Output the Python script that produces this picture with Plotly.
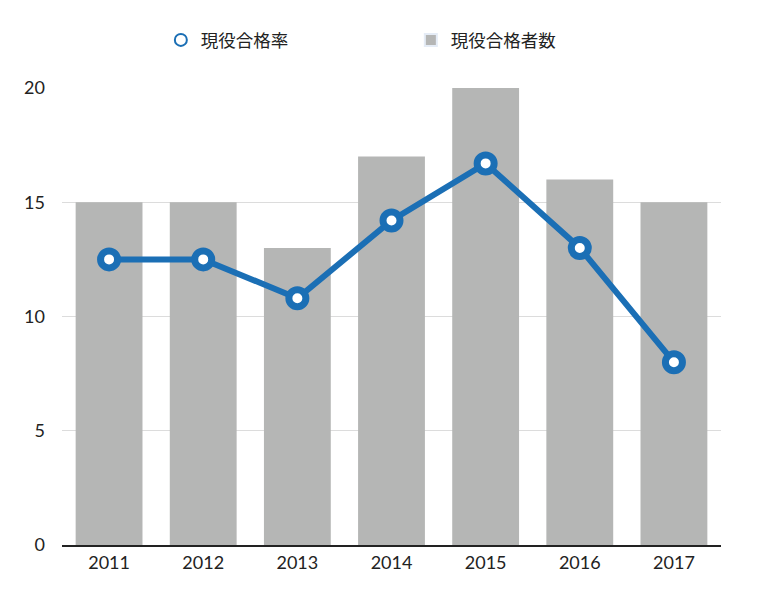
import plotly.graph_objects as go

years = ["2011", "2012", "2013", "2014", "2015", "2016", "2017"]
passers = [15, 15, 13, 17, 20, 16, 15]
pass_rate = [12.5, 12.5, 10.8, 14.2, 16.7, 13.0, 8.0]

blue = "#1b6fb5"
gray = "#b5b6b5"

fig = go.Figure()

fig.add_trace(go.Bar(
    x=years, y=passers, name="現役合格者数",
    marker=dict(color=gray, line=dict(width=0)),
    showlegend=False,
))

fig.add_trace(go.Scatter(
    x=years, y=pass_rate, name="現役合格率",
    mode="lines+markers",
    line=dict(color=blue, width=6),
    marker=dict(size=17, color="white", line=dict(color=blue, width=7)),
    showlegend=False,
))

# legend-only entries (marker only for the line series)
fig.add_trace(go.Scatter(
    x=[None], y=[None], name="現役合格率", mode="markers",
    marker=dict(size=10, color="white", line=dict(color=blue, width=5)),
))
fig.add_trace(go.Bar(
    x=[None], y=[None], name="現役合格者数", marker=dict(color=gray),
))

fig.update_layout(
    width=768, height=591,
    margin=dict(l=54, r=55, t=80, b=54, autoexpand=False),
    paper_bgcolor="white", plot_bgcolor="white",
    font=dict(family="Lato, Noto Sans CJK JP", size=18, color="#222222"),
    bargap=0.29,
    barmode="overlay",
    legend=dict(
        orientation="h", x=0.15, xanchor="left", y=1.105, yanchor="middle",
        font=dict(family="Noto Sans CJK JP", size=17.5, color="#222222"),
        entrywidth=205, entrywidthmode="pixels",
        itemsizing="constant",
    ),
)

fig.update_xaxes(
    showgrid=False, showline=True, linecolor="#222222", linewidth=2,
    ticks="", tickfont=dict(size=18),
)
fig.update_yaxes(
    range=[0, 20], tickvals=[0, 5, 10, 15, 20],
    showgrid=True, gridcolor="#dcdcdc", gridwidth=1,
    zeroline=False, ticks="", ticklabelstandoff=16,
    tickfont=dict(size=18),
)

fig.write_html("out.html")
